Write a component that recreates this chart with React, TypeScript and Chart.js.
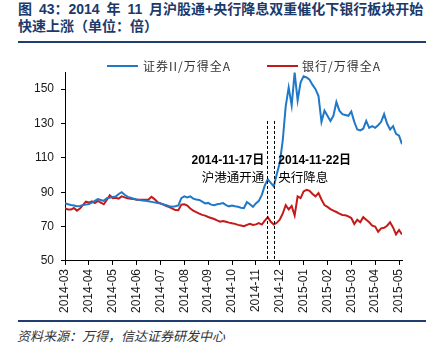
import React, { useEffect, useRef } from 'react';
import { Chart, registerables } from 'chart.js';

Chart.register(...registerables);

const titleLines = ['图 43：2014 年 11 月沪股通+央行降息双重催化下银行板块开始', '快速上涨（单位：倍）'];
const sourceText = '资料来源：万得，信达证券研发中心';

const monthLabels = [
  '2014-03', '2014-04', '2014-05', '2014-06', '2014-07', '2014-08', '2014-09', '2014-10',
  '2014-11', '2014-12', '2015-01', '2015-02', '2015-03', '2015-04', '2015-05',
];
const pointsPerMonth = 8;
const yTickValues = [50, 70, 90, 110, 130, 150];
const yMin = 50;
const yMax = 160;

const seriesNames = ['证券II/万得全A', '银行/万得全A'];
const seriesColors = ['#1f78c8', '#c41a1a'];

const securitiesRatio = [
  83.7, 83.0, 82.6, 82.3, 81.8, 82.0, 82.5, 82.8,
  83.1, 84.0, 85.0, 86.0, 85.5, 85.0, 86.5, 86.8,
  87.3, 87.5, 89.0, 90.0, 88.5, 87.3, 86.8, 86.3,
  85.8, 85.5, 85.2, 85.0, 84.7, 84.4, 84.1, 83.8,
  83.4, 82.9, 82.4, 81.9, 81.5, 81.8, 82.3, 86.6,
  87.6, 87.0, 87.6, 86.3, 85.8, 85.5, 84.5, 83.5,
  83.8, 82.8, 82.5, 83.0, 83.3, 83.7, 82.5, 81.8,
  82.2, 81.8, 81.5, 81.0, 80.8, 84.3, 83.0, 81.5,
  83.5, 85.0, 88.5, 94.0, 97.5, 95.5, 93.4, 100.5,
  107.0, 120.0, 140.0, 151.0, 140.5, 159.6, 143.5, 154.0,
  157.5, 156.8, 155.5, 152.5, 150.0, 146.0, 131.0, 137.5,
  134.5, 131.5, 134.5, 142.5, 137.5, 135.5, 135.0, 134.5,
  137.0, 131.0, 126.5, 126.0, 127.0, 131.5, 127.5, 128.5,
  127.5, 129.0, 131.0, 135.5, 130.0, 126.5, 128.5, 124.0,
  123.0, 118.0,
];

const bankRatio = [
  80.5, 80.0, 79.9, 80.8, 79.3, 80.5, 82.5, 84.5,
  84.0, 84.7, 83.7, 85.0, 84.0, 83.0, 85.5, 88.2,
  86.6, 86.8, 86.3, 87.6, 87.0, 86.5, 86.2, 86.0,
  85.7, 85.6, 85.6, 85.7, 85.8, 87.4, 86.0, 84.3,
  83.5, 82.8, 82.0, 81.3, 80.5, 79.6, 79.5, 82.8,
  83.0, 82.2, 80.5, 79.3, 78.4, 77.6, 76.8, 76.4,
  75.6, 75.0, 74.4, 73.6, 72.9, 73.3, 72.8, 72.3,
  71.9, 71.6, 71.0, 70.6, 70.2, 71.0, 71.6, 71.0,
  71.3, 72.0, 71.2, 73.5, 75.5, 72.8, 71.2, 72.2,
  74.0, 77.5, 82.5, 80.0, 82.0, 76.5, 87.6, 86.6,
  90.5, 91.4, 90.8, 89.0, 87.6, 89.5, 85.8, 82.5,
  81.5, 80.2, 79.3, 78.5, 77.6, 76.8, 76.6, 76.0,
  75.0, 71.5, 74.0, 72.5, 75.5, 74.0, 72.5, 70.5,
  70.0, 67.0, 69.0, 69.3, 70.5, 72.5, 69.5, 65.5,
  68.0, 65.4,
];

const eventPositions = [67.8, 70.2];
const eventDates = ['2014-11-17日', '2014-11-22日'];
const eventNames = ['沪港通开通', '央行降息'];
const eventSides = ['left', 'right'];
const eventLineTop = 131.5;
const eventDateLevel = 108.4;
const eventNameLevel = 99.0;

const titleColor = '#1b3a6b';
const ruleColor = '#1f3d6f';

const eventPlugin = {
  id: 'eventMarkers',
  afterDatasetsDraw(chart: any) {
    const { ctx, chartArea, scales } = chart;
    const x = scales.x;
    const y = scales.y;
    ctx.save();
    ctx.strokeStyle = '#000';
    ctx.lineWidth = 1;
    ctx.setLineDash([3, 2]);
    eventPositions.forEach((pos) => {
      const px = Math.round(x.getPixelForValue(pos)) + 0.5;
      ctx.beginPath();
      ctx.moveTo(px, y.getPixelForValue(eventLineTop));
      ctx.lineTo(px, chartArea.bottom);
      ctx.stroke();
    });
    ctx.setLineDash([]);
    ctx.fillStyle = '#000';
    ctx.textBaseline = 'middle';
    eventPositions.forEach((pos, k) => {
      const px = x.getPixelForValue(pos);
      const left = eventSides[k] === 'left';
      const tx = left ? px - 3 : px + 4;
      ctx.textAlign = left ? 'right' : 'left';
      ctx.font = "bold 12px 'Liberation Sans', 'Noto Sans CJK SC', sans-serif";
      ctx.fillText(eventDates[k], tx, y.getPixelForValue(eventDateLevel));
      ctx.font = "12.5px 'Noto Sans CJK SC', sans-serif";
      ctx.fillText(eventNames[k], tx, y.getPixelForValue(eventNameLevel));
    });
    ctx.restore();
  },
};

export default function App() {
  const ref = useRef<HTMLCanvasElement>(null);

  useEffect(() => {
    const toPoints = (arr: number[]) => arr.map((v, i) => ({ x: i, y: v }));
    const axisFont = { family: "'Liberation Sans', Arial, sans-serif", size: 12 };
    const chart = new Chart(ref.current as HTMLCanvasElement, {
      type: 'line',
      data: {
        datasets: [
          {
            label: seriesNames[0],
            data: toPoints(securitiesRatio),
            borderColor: seriesColors[0],
            backgroundColor: seriesColors[0],
            borderWidth: 2,
            pointRadius: 0,
            tension: 0,
          },
          {
            label: seriesNames[1],
            data: toPoints(bankRatio),
            borderColor: seriesColors[1],
            backgroundColor: seriesColors[1],
            borderWidth: 2,
            pointRadius: 0,
            tension: 0,
          },
        ],
      },
      options: {
        animation: false,
        responsive: false,
        layout: { padding: { left: 27, right: 37, top: 27, bottom: 0 } },
        plugins: { legend: { display: false }, tooltip: { enabled: false } },
        scales: {
          x: {
            type: 'linear',
            min: 0,
            max: securitiesRatio.length - 1,
            afterBuildTicks: (axis: any) => {
              axis.ticks = monthLabels.map((_, k) => ({ value: k * pointsPerMonth }));
            },
            ticks: {
              autoSkip: false,
              maxRotation: 90,
              minRotation: 90,
              padding: 4,
              color: '#1a1a1a',
              font: axisFont,
              callback: (v: any) => monthLabels[Math.round(Number(v) / pointsPerMonth)] ?? '',
            },
            grid: { drawOnChartArea: false, drawTicks: true, tickLength: 4, color: '#000' },
            border: { display: true, color: '#000', width: 1 },
          },
          y: {
            min: yMin,
            max: yMax,
            afterBuildTicks: (axis: any) => {
              axis.ticks = yTickValues.map((v) => ({ value: v }));
            },
            ticks: { padding: 7, color: '#1a1a1a', font: axisFont },
            grid: { drawOnChartArea: false, drawTicks: true, tickLength: 4, color: '#000' },
            border: { display: true, color: '#000', width: 1 },
          },
        },
      },
      plugins: [eventPlugin],
    } as any);
    return () => chart.destroy();
  }, []);

  const legendX = [107, 267];
  const legendTextX = [143, 302];

  return (
    <div style={{ position: 'fixed', left: 0, top: 0, width: 439, height: 358, background: '#fff', overflow: 'hidden' }}>
      <div
        style={{
          position: 'absolute', left: 18, top: 1, fontFamily: "'Liberation Sans', 'Noto Sans CJK SC', sans-serif",
          fontWeight: 'bold', fontSize: 14, lineHeight: '17px', color: titleColor, whiteSpace: 'pre',
          wordSpacing: '3px',
        }}
      >
        {titleLines.map((l) => (
          <div key={l}>{l}</div>
        ))}
      </div>
      <div style={{ position: 'absolute', left: 18, top: 41, width: 408, height: 2, background: ruleColor }} />
      <canvas ref={ref} width={439} height={272} style={{ position: 'absolute', left: 0, top: 45 }} />
      {seriesNames.map((name, k) => (
        <React.Fragment key={name}>
          <div style={{ position: 'absolute', left: legendX[k], top: 65, width: 31, height: 2, background: seriesColors[k] }} />
          <div
            style={{
              position: 'absolute', left: legendTextX[k], top: 58, lineHeight: '16px', fontSize: 12,
              fontFamily: "'Noto Sans CJK SC', sans-serif", color: '#333', letterSpacing: '1px', whiteSpace: 'nowrap',
            }}
          >
            {name}
          </div>
        </React.Fragment>
      ))}
      <div style={{ position: 'absolute', left: 18, top: 320, width: 408, height: 2, background: ruleColor }} />
      <div
        style={{
          position: 'absolute', left: 17, top: 327, fontSize: 13, lineHeight: '17px', fontStyle: 'italic',
          fontFamily: "'Noto Sans CJK SC', sans-serif", color: '#333', whiteSpace: 'nowrap',
        }}
      >
        {sourceText}
      </div>
    </div>
  );
}
